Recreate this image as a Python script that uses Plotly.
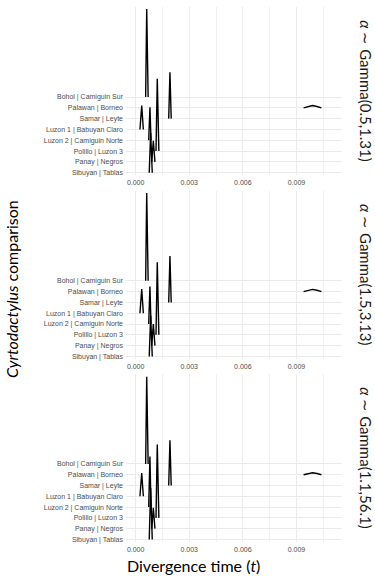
import plotly.graph_objects as go

# ---------------- data ----------------
categories = [
    "Sibuyan | Tablas",
    "Panay | Negros",
    "Polillo | Luzon 3",
    "Luzon 2 | Camiguin Norte",
    "Luzon 1 | Babuyan Claro",
    "Samar | Leyte",
    "Palawan | Borneo",
    "Bohol | Camiguin Sur",
]

# divergence-time points of each ridge outline (left foot ... right foot)
ridge_t = {
    "Sibuyan | Tablas":         [0.00076, 0.00084, 0.00093],
    "Panay | Negros":           [0.00090, 0.00099, 0.00108],
    "Polillo | Luzon 3":        [0.00114, 0.00121, 0.00130],
    "Luzon 2 | Camiguin Norte": [0.00073, 0.00080, 0.00086],
    "Luzon 1 | Babuyan Claro":  [0.00024, 0.00034, 0.00043],
    "Samar | Leyte":            [0.00185, 0.00192, 0.00199],
    "Palawan | Borneo":         [0.00940, 0.00965, 0.00990, 0.01015, 0.01040],
    "Bohol | Camiguin Sur":     [0.00056, 0.00062, 0.00070],
}
# relative height of each outline point (1 = ridge peak)
ridge_shape = {
    "Sibuyan | Tablas":         [0, 1, 0],
    "Panay | Negros":           [0, 1, 0],
    "Polillo | Luzon 3":        [0, 1, 0],
    "Luzon 2 | Camiguin Norte": [0, 1, 0],
    "Luzon 1 | Babuyan Claro":  [0, 1, 0],
    "Samar | Leyte":            [0, 1, 0],
    "Palawan | Borneo":         [0, 0.6, 1, 0.6, 0],
    "Bohol | Camiguin Sur":     [0, 1, 0],
}

panel_labels = [
    "<i>α</i> ∼ Gamma(0.5,1.31)",
    "<i>α</i> ∼ Gamma(1.5,3.13)",
    "<i>α</i> ∼ Gamma(1.1,56.1)",
]
# ridge peak heights (in row units), one list per panel, order = categories
peak_heights = [
    [3.70, 1.95, 6.70, 3.05, 2.20, 4.30, 0.21, 8.15],
    [3.78, 2.00, 6.72, 3.47, 2.24, 4.30, 0.21, 8.14],
    [4.76, 1.93, 6.80, 4.70, 2.15, 4.20, 0.19, 8.10],
]

x_ticks = [0.000, 0.003, 0.006, 0.009]
x_title = "Divergence time (<i>t</i>)"
y_title = "<i>Cyrtodactylus</i> comparison"

# ---------------- layout geometry ----------------
W, H = 375, 578
x_left_px, x_right_px = 126, 342
panel_px = [(7, 176), (191.5, 360.4), (375.5, 544)]  # top, bottom pixel of each panel
x_range = [-0.00054, 0.01155]
y_range = [-0.25, 15.33]

fig = go.Figure()

for p in range(3):
    ax = "" if p == 0 else str(p + 1)
    for i, cat in enumerate(categories):
        ts = ridge_t[cat]
        ys = [i + f * peak_heights[p][i] for f in ridge_shape[cat]]
        fig.add_trace(go.Scatter(
            x=ts, y=ys, mode="lines",
            line=dict(color="black", width=1.4),
            xaxis="x" + ax, yaxis="y" + ax,
            showlegend=False, hoverinfo="skip",
        ))

    top, bot = panel_px[p]
    fig.layout["xaxis" + ax] = dict(
        domain=[x_left_px / W, x_right_px / W],
        anchor="y" + ax,
        range=x_range,
        tickvals=x_ticks,
        ticktext=[f"{v:.3f}" for v in x_ticks],
        showgrid=True, gridcolor="#ebebeb", gridwidth=1,
        minor=dict(dtick=0.0015, tick0=0, showgrid=True, gridcolor="#f0f0f0", gridwidth=0.7),
        zeroline=False, showline=False, ticks="",
        tickfont=dict(family="Liberation Sans", size=7, color="#4d4d4d"),
        ticklabelstandoff=2,
        fixedrange=True,
    )
    fig.layout["yaxis" + ax] = dict(
        domain=[1 - bot / H, 1 - top / H],
        anchor="x" + ax,
        range=y_range,
        tickvals=list(range(len(categories))),
        ticktext=categories,
        showgrid=True, gridcolor="#ebebeb", gridwidth=1,
        zeroline=False, showline=False, ticks="",
        tickfont=dict(family="Liberation Sans", size=7, color="#4d4d4d"),
        ticklabelstandoff=2,
        fixedrange=True,
    )
    fig.add_annotation(
        text=panel_labels[p], textangle=90,
        x=366 / W, y=1 - (top + bot) / 2 / H, xref="paper", yref="paper",
        showarrow=False, xanchor="center", yanchor="middle",
        font=dict(family="Lato", size=15, color="#1a1a1a"),
    )

fig.add_annotation(
    text=x_title, x=193 / W, y=1 - 567 / H, xref="paper", yref="paper",
    showarrow=False, xanchor="center", yanchor="middle",
    font=dict(family="Lato", size=16, color="black"),
)
fig.add_annotation(
    text=y_title, textangle=-90, x=12 / W, y=1 - 290 / H, xref="paper", yref="paper",
    showarrow=False, xanchor="center", yanchor="middle",
    font=dict(family="Lato", size=16, color="black"),
)

fig.update_layout(
    width=W, height=H,
    margin=dict(l=0, r=0, t=0, b=0),
    paper_bgcolor="white", plot_bgcolor="white",
)

fig.write_html("out.html")
